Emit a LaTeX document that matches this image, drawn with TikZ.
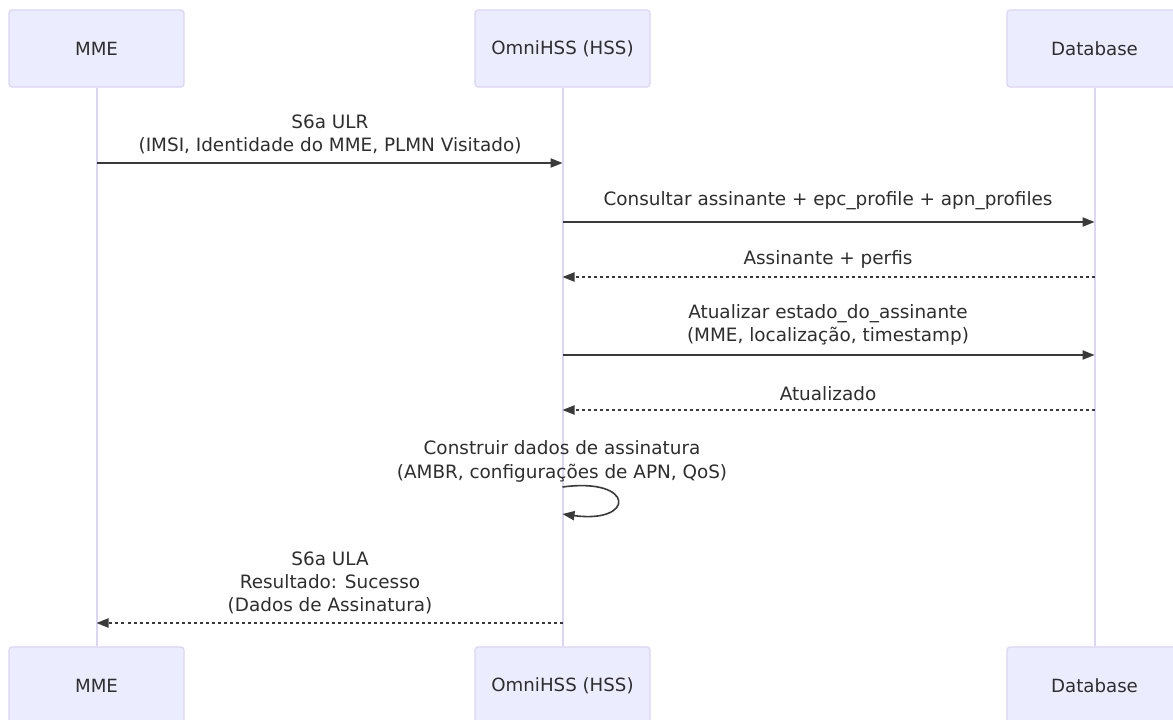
\documentclass[tikz,border=0pt]{standalone}
\usepackage{fontspec}
\setmainfont{DejaVu Sans}
\usetikzlibrary{arrows.meta}
\definecolor{actfill}{HTML}{ECECFF}
\definecolor{actdraw}{HTML}{DDD3F7}
\definecolor{lifecol}{HTML}{DDD5F7}
\definecolor{txt}{HTML}{2E2E2E}
\definecolor{msgcol}{HTML}{3A3A3A}
\tikzset{
  actor/.style={draw=actdraw, fill=actfill, line width=0.6pt, rounded corners=1.5pt,
    minimum width=87.5pt, minimum height=38.5pt, inner sep=0pt, text=txt,
    font=\fontsize{9.1}{11}\selectfont},
  lifeline/.style={draw=lifecol, line width=1pt},
  msglabel/.style={text=txt, align=center, inner sep=0pt, font=\fontsize{9.2}{11.6}\selectfont},
  solidmsg/.style={draw=msgcol, line width=0.8pt, -{Triangle[length=6pt,width=4.6pt]}},
  dotmsg/.style={draw=msgcol, line width=0.8pt, dash pattern=on 1.5pt off 1.5pt, -{Triangle[length=6pt,width=4.6pt]}},
}
\begin{document}
\begin{tikzpicture}[x=0.5pt,y=-0.5pt]
\useasboundingbox (0,0) rectangle (1173,719);
\clip (0,0) rectangle (1173,719);
\fill[white] (0,0) rectangle (1173,719);

% actors
\node[actor] (mmeT) at (96.5,48.5) {MME};
\node[actor] (hssT) at (562.5,48.5) {OmniHSS (HSS)};
\node[actor] (dbT)  at (1094.5,48.5) {Database};
\node[actor] (mmeB) at (96.5,685.5) {MME};
\node[actor] (hssB) at (562.5,685.5) {OmniHSS (HSS)};
\node[actor] (dbB)  at (1094.5,685.5) {Database};

% lifelines
\draw[lifeline] (mmeT.south) -- (mmeB.north);
\draw[lifeline] (hssT.south) -- (hssB.north);
\draw[lifeline] (dbT.south) -- (dbB.north);

% 1 ULR
\node[msglabel] (l1) at (330,134) {S6a ULR\\(IMSI, Identidade do MME, PLMN Visitado)};
\draw[solidmsg] (mmeT |- 0,163) -- (hssT |- 0,163);

% 2 Consultar
\node[msglabel] (l2) at (828,201) {Consultar assinante + epc\_profile + apn\_profiles};
\draw[solidmsg] (hssT |- 0,222) -- (dbT |- 0,222);

% 3 Assinante + perfis
\node[msglabel] (l3) at (828,259) {Assinante + perfis};
\draw[dotmsg] (dbT |- 0,277) -- (hssT |- 0,277);

% 4 Atualizar
\node[msglabel] (l4) at (828,325) {Atualizar estado\_do\_assinante\\(MME, localização, timestamp)};
\draw[solidmsg] (hssT |- 0,355) -- (dbT |- 0,355);

% 5 Atualizado
\node[msglabel] (l5) at (828,394) {Atualizado};
\draw[dotmsg] (dbT |- 0,410) -- (hssT |- 0,410);

% 6 self message
\node[msglabel] (l6) at (562,461.5) {Construir dados de assinatura\\(AMBR, configurações de APN, QoS)};
\coordinate (s6a) at (hssT |- 0,487);
\coordinate (s6b) at (hssT |- 0,514);
\draw[solidmsg] (s6a) .. controls ++(73,-10) and ++(73,10) .. (s6b);

% 7 ULA
\node[msglabel] (l7) at (330,583) {S6a ULA\\Resultado: Sucesso\\(Dados de Assinatura)};
\draw[dotmsg] (hssT |- 0,623) -- (mmeT |- 0,623);
\end{tikzpicture}
\end{document}
